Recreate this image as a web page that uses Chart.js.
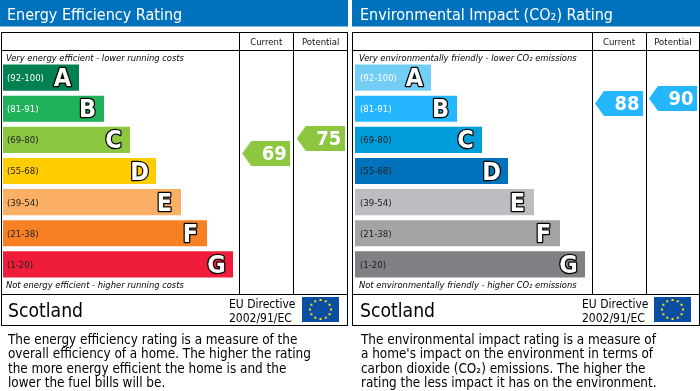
<!DOCTYPE html>
<html>
<head>
<meta charset="utf-8">
<script src="https://cdn.jsdelivr.net/npm/chart.js@4"></script>
<style>
html,body{margin:0;padding:0;background:#fff;overflow:hidden}
canvas{position:absolute}
#energyBars{left:0;top:0}
#energyArrows{left:239px;top:32px}
#environmentBars{left:350px;top:0}
#environmentArrows{left:592px;top:32px}
</style>
</head>
<body>
<canvas id="energyBars" width="350" height="391"></canvas>
<canvas id="energyArrows" width="109" height="262"></canvas>
<canvas id="environmentBars" width="350" height="391"></canvas>
<canvas id="environmentArrows" width="108" height="262"></canvas>
<script>
const ratingRanges = ["(92-100)","(81-91)","(69-80)","(55-68)","(39-54)","(21-38)","(1-20)"]
const bandLetters = ["A","B","C","D","E","F","G"]
const columnNames = ["Current","Potential"]

const energyLengths = [76,101,127,153,178,204,230]
const environmentLengths = [76,102,127,153,179,205,230]
const energyRatings = [69,75]
const environmentRatings = [88,90]

const energyColors = ["#00814F","#1FB25A","#8DC63F","#FFCC00","#FBAF64","#F78122","#EF1C3A"]
const environmentColors = ["#73CEF5","#24B6FF","#009DDB","#0072BC","#BCBDC0","#A3A4A6","#808184"]

const energyDescription = [
"The energy efficiency rating is a measure of the",
"overall efficiency of a home. The higher the rating",
"the more energy efficient the home is and the",
"lower the fuel bills will be."]
const environmentDescription = [
"The environmental impact rating is a measure of",
"a home's impact on the environment in terms of",
"carbon dioxide (CO₂) emissions. The higher the",
"rating the less impact it has on the environment."]

const FONT = '"DejaVu Sans Condensed","DejaVu Sans",sans-serif'

function arrowImage(color){
  let c = document.createElement("canvas")
  c.width = 48
  c.height = 25
  let g = c.getContext("2d")
  g.fillStyle = color
  g.beginPath()
  g.moveTo(0,12.5)
  g.lineTo(9,0)
  g.lineTo(48,0)
  g.lineTo(48,25)
  g.lineTo(9,25)
  g.closePath()
  g.fill()
  return c
}

function label(ctx,text,x,y,font,color){
  ctx.font = font
  ctx.fillStyle = color
  ctx.textAlign = "left"
  ctx.textBaseline = "alphabetic"
  ctx.fillText(text,x,y)
}

function drawFlag(ctx,x,y){
  ctx.fillStyle = "#0B4EA2"
  ctx.fillRect(x,y,37,25)
  ctx.fillStyle = "#FFE500"
  for(let i=0;i<12;i++){
    let a = i*Math.PI/6
    ctx.fillRect(x+18.5+Math.cos(a)*10.5-1,y+12.5+Math.sin(a)*9.5-1,2,2)
  }
}

const panelPlugin = {
  id:"panel",
  beforeDraw(chart,args,p){
    let ctx = chart.ctx
    ctx.save()
    ctx.fillStyle = "#0071BC"
    ctx.fillRect(p.bandLeft,0,p.bandRight-p.bandLeft,26)
    ctx.fillStyle = "#7FB8DE"
    ctx.fillRect(p.bandLeft,26,p.bandRight-p.bandLeft,1)
    label(ctx,p.title,p.text-1,20,"16px "+FONT,"#fff")

    ctx.fillStyle = "#000"
    ctx.fillRect(p.left,32,p.right-p.left+1,1)
    ctx.fillRect(p.left,50,p.right-p.left+1,1)
    ctx.fillRect(p.left,294,p.right-p.left+1,1)
    ctx.fillRect(p.left,325,p.right-p.left+1,1)
    ctx.fillRect(p.left,32,1,294)
    ctx.fillRect(p.right,32,1,294)
    ctx.fillRect(p.col1,32,1,262)
    ctx.fillRect(p.col2,32,1,262)

    label(ctx,p.topNote,p.text-2,61,"italic 9.3px "+FONT,"#000")
    label(ctx,p.bottomNote,p.text-2,288,"italic 9.3px "+FONT,"#000")

    label(ctx,"Scotland",p.scotland,317,"19.2px "+FONT,"#000")
    label(ctx,"EU Directive",p.col1-10,308,"12px "+FONT,"#000")
    label(ctx,"2002/91/EC",p.col1-10,322,"12px "+FONT,"#000")
    drawFlag(ctx,p.right-45,297)

    p.description.forEach(function(line,i){
      label(ctx,line,p.text,344+i*14.4,"13.4px "+FONT,"#000")
    })
    ctx.restore()
  },
  afterDatasetsDraw(chart){
    let ctx = chart.ctx
    ctx.save()
    // band letters, outlined, sitting near the end of each bar
    chart.getDatasetMeta(0).data.forEach(function(bar,i){
      ctx.font = "bold 25px "+FONT
      ctx.textAlign = "center"
      ctx.textBaseline = "middle"
      ctx.lineWidth = 2.5
      ctx.lineJoin = "round"
      ctx.strokeStyle = "#000"
      ctx.fillStyle = "#fff"
      ctx.strokeText(bandLetters[i],bar.x-16.5,bar.y+2)
      ctx.fillText(bandLetters[i],bar.x-16.5,bar.y+2)
    })
    ctx.restore()
  }
}

// rating numbers on the arrows
const numberPlugin = {
  id:"numbers",
  afterDatasetsDraw(chart){
    let ctx = chart.ctx
    let values = chart.data.datasets[0].data
    ctx.save()
    chart.getDatasetMeta(0).data.forEach(function(pt,i){
      ctx.font = "bold 20px "+FONT
      ctx.fillStyle = "#fff"
      ctx.textAlign = "center"
      ctx.textBaseline = "middle"
      ctx.fillText(values[i],pt.x+8,pt.y+1)
    })
    ctx.restore()
  }
}

function drawBars(id,lengths,colors,axis,panel){
  new Chart(document.getElementById(id).getContext("2d"),{
    type:"bar",
    plugins:[panelPlugin],
    data:{
      labels:ratingRanges,
      datasets:[{
        data:lengths,
        backgroundColor:colors,
        barPercentage:26/31,
        categoryPercentage:1
      }]
    },
    options:{
      indexAxis:"y",
      responsive:false,
      animation:false,
      layout:{padding:{left:axis.left,right:axis.right,top:62,bottom:111}},
      plugins:{
        legend:{display:false},
        tooltip:{enabled:false},
        panel:panel
      },
      scales:{
        x:{type:"linear",display:false,min:0,max:axis.lengthMax},
        y:{
          type:"category",
          afterFit:function(s){ s.width = 0 },
          border:{display:false},
          grid:{display:false,drawTicks:false},
          ticks:{
            z:1,
            mirror:true,
            padding:axis.tickPad,
            labelOffset:1,
            font:{family:FONT,size:9.5},
            color:function(c){ return c.index<2 ? "#fff" : "#222" }
          }
        }
      }
    }
  })
}

function drawArrows(id,ratings,color,ratingMin,ratingMax){
  new Chart(document.getElementById(id).getContext("2d"),{
    type:"line",
    plugins:[numberPlugin],
    data:{
      labels:columnNames,
      datasets:[{
        data:ratings,
        showLine:false,
        pointStyle:arrowImage(color),
        pointRadius:24,
        clip:false
      }]
    },
    options:{
      responsive:false,
      animation:false,
      layout:{autoPadding:false,padding:0},
      plugins:{legend:{display:false},tooltip:{enabled:false}},
      scales:{
        x:{
          type:"category",
          position:"top",
          offset:true,
          afterFit:function(s){ s.height = 19 },
          border:{display:false},
          grid:{display:false,drawTicks:false},
          ticks:{padding:3,maxRotation:0,autoSkip:false,font:{family:FONT,size:9.5},color:"#111"}
        },
        y:{type:"linear",display:false,min:ratingMin,max:ratingMax}
      }
    }
  })
}

drawBars("energyBars",energyLengths,energyColors,
  {left:3,right:3,lengthMax:344,tickPad:4},
  {title:"Energy Efficiency Rating",bandLeft:0,bandRight:348,left:1,right:347,col1:239,col2:293,text:8,scotland:8,
   topNote:"Very energy efficient - lower running costs",
   bottomNote:"Not energy efficient - higher running costs",
   description:energyDescription})
drawArrows("energyArrows",energyRatings,"#8DC63F",12.8,110)

drawBars("environmentBars",environmentLengths,environmentColors,
  {left:5,right:0,lengthMax:345,tickPad:5},
  {title:"Environmental Impact (CO₂) Rating",bandLeft:2,bandRight:350,left:2,right:349,col1:242,col2:296,text:11,scotland:10,
   topNote:"Very environmentally friendly - lower CO₂ emissions",
   bottomNote:"Not environmentally friendly - higher CO₂ emissions",
   description:environmentDescription})
drawArrows("environmentArrows",environmentRatings,"#24B6FF",11.8,109)
</script>
</body>
</html>
